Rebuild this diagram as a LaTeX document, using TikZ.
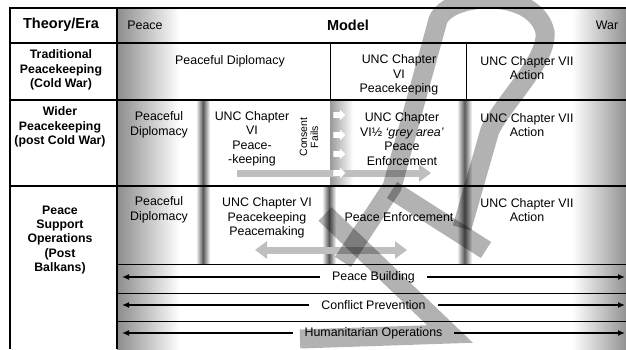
\documentclass[tikz,border=0pt]{standalone}
\usepackage{fontspec}
\setmainfont{Liberation Sans}
\usetikzlibrary{shapes,arrows.meta}

\begin{document}
\begin{tikzpicture}[x=1pt,y=-1pt]
\tikzstyle{txt}=[align=center,inner sep=0pt,font=\fontsize{12.4}{14.5}\selectfont]
\tikzstyle{hdr}=[txt,font=\fontsize{14.5}{17}\selectfont\bfseries]
\tikzstyle{era}=[txt,font=\fontsize{12.3}{14.2}\selectfont\bfseries]
\tikzstyle{cyl}=[left color=white,right color=white,middle color=black!65]
\tikzstyle{bandlabel}=[txt,fill=white,inner xsep=12pt,inner ysep=3pt]
\tikzstyle{bandarrow}=[line width=2pt,{Latex[length=7pt,width=6pt]}-{Latex[length=7pt,width=6pt]}]
\tikzstyle{greyarrow}=[line width=7pt,gray!50]
\tikzstyle{pusharrow}=[single arrow,fill=white,inner sep=2.6pt,minimum height=12pt,minimum width=10pt,single arrow head extend=2.5pt]
\tikzstyle{wmark}=[line width=19pt,black,opacity=.3]
\useasboundingbox (0,0) rectangle (626,349);
\shade[left color=gray!90,right color=white] (117,8) rectangle (180,349);
\shade[left color=white,right color=gray!85] (572,8) rectangle (626,349);
\shade[left color=gray!80,right color=white] (330,100) rectangle (353,186);
\shade[cyl] (196,100) rectangle (210,264);
\shade[cyl] (322,186) rectangle (336,264);
\shade[cyl] (457,100) rectangle (472,264);
\draw[line width=1.3pt] (10,349) -- (10,8) -- (626,8);
\draw[line width=2pt] (117,8) -- (117,349);
\foreach \y in {43,100,186}
  \draw[line width=2.5pt] (10,\y) -- (626,\y);
\foreach \y in {264,293,321}
  \draw[line width=1pt] (117,\y) -- (626,\y);
\draw[line width=.8pt] (330,43) -- (330,100) (466,43) -- (466,100);
\node[hdr] (theory) at (61,25) {Theory/Era};
\node[txt] (peace) at (145,25) {Peace};
\node[hdr] (model) at (348,25) {Model};
\node[txt] (war) at (607,25) {War};
\node[era] (trad) at (61,70) {Traditional\\Peacekeeping\\(Cold War)};
\node[era] (wider) at (60,127) {Wider\\Peacekeeping\\(post Cold War)};
\node[era] (pso) at (60,240) {Peace\\Support\\Operations\\(Post\\Balkans)};
\node[txt] (tradpd) at (230,61) {Peaceful Diplomacy};
\node[txt] (tradvi) at (399,75) {UNC Chapter\\VI\\Peacekeeping};
\node[txt] (tradvii) at (527,68) {UNC Chapter VII\\Action};
\node[txt] (widerpd) at (159,125) {Peaceful\\Diplomacy};
\node[txt] (widervi) at (252,139) {UNC Chapter\\VI\\Peace-\\-keeping};
\node[txt,rotate=90,font=\fontsize{10.5}{11}\selectfont] (consent) at (309,137) {Consent\\Fails};
\node[txt] (widerhalf) at (402,139) {UNC Chapter\\VI½ \textit{‘grey area’}\\Peace\\Enforcement};
\node[txt] (widervii) at (527,125) {UNC Chapter VII\\Action};
\node[txt] (psopd) at (159,210) {Peaceful\\Diplomacy};
\node[txt] (psovi) at (267,218) {UNC Chapter VI\\Peacekeeping\\Peacemaking};
\node[txt] (psope) at (399,217) {Peace Enforcement};
\node[txt] (psovii) at (527,210) {UNC Chapter VII\\Action};
\coordinate (widerL) at (237,173);
\coordinate (widerR) at (431,173);
\draw[greyarrow,-{Triangle[length=12pt,width=17pt]}] (widerL) -- (widerR);
\foreach \y/\n in {115/1,135/2,154/3,173/4}
  \node[pusharrow] (push\n) at (338,\y) {};
\coordinate (psoL) at (255,250);
\coordinate (psoR) at (407,250);
\draw[greyarrow,{Triangle[length=12pt,width=17pt]}-{Triangle[length=12pt,width=17pt]}] (psoL) -- (psoR);
\foreach \y/\n/\t in {277/build/Peace Building,305/prevent/Conflict Prevention,333/human/Humanitarian Operations}{
  \coordinate (\n L) at (122,\y);
  \coordinate (\n R) at (625,\y);
  \draw[bandarrow] (\n L) -- node[bandlabel] (\n) {\t} (\n R);
}
\draw[wmark] (343,262) -- (392,187) -- (438,20) .. controls (450,-8) and (535,-12) .. (545,32) .. controls (548,60) and (505,100) .. (490,130) -- (462,228);
\draw[wmark] (392,190) -- (486,250);
\draw[wmark] (325,214) -- (450,334) -- (300,339);
\end{tikzpicture}
\end{document}
